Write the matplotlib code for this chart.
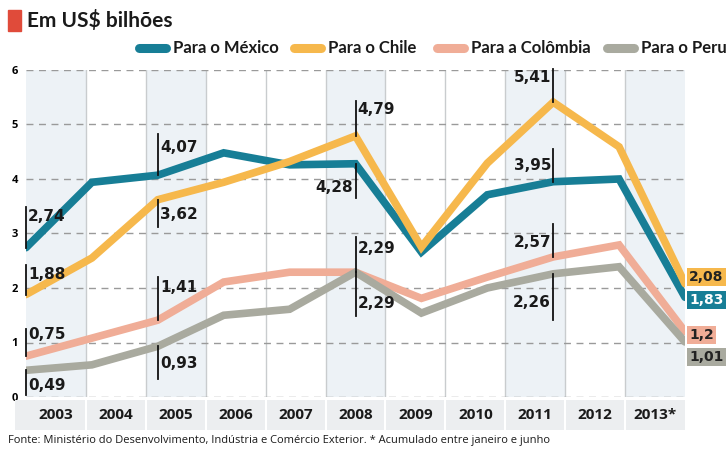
import matplotlib
matplotlib.use("Agg")
import matplotlib.pyplot as plt
from matplotlib.lines import Line2D
from matplotlib.patches import Rectangle

# data (US$ bilhões)
years = ["2003", "2004", "2005", "2006", "2007", "2008", "2009", "2010", "2011", "2012", "2013*"]
mexico = [2.74, 3.94, 4.07, 4.48, 4.26, 4.28, 2.66, 3.71, 3.95, 4.00, 1.83]
chile = [1.88, 2.55, 3.62, 3.94, 4.32, 4.79, 2.75, 4.29, 5.41, 4.59, 2.08]
colombia = [0.75, 1.08, 1.41, 2.11, 2.29, 2.29, 1.81, 2.20, 2.57, 2.79, 1.20]
peru = [0.49, 0.59, 0.93, 1.50, 1.61, 2.29, 1.54, 2.00, 2.26, 2.39, 1.01]
names = ["Para o México", "Para o Chile", "Para a Colômbia", "Para o Peru"]
shaded = [0, 2, 5, 8, 10]

colors = ["#177e96", "#f6b84c", "#f0ad97", "#a9aa9f"]
series = [mexico, chile, colombia, peru]

NUM = ["Open Sans", "DejaVu Sans"]
LAB = ["DejaVu Sans"]
NARROW = ["Liberation Sans Narrow", "Lato", "DejaVu Sans"]

# (series, year index, up/down, text side, text offset, line length)
notes = [
    (0, 0, 1, "r", 0.57, 0.75), (1, 0, 1, "r", 0.37, 0.55), (2, 0, 1, "r", 0.39, 0.5), (3, 0, -1, "r", 0.28, 0.45),
    (0, 2, 1, "r", 0.5, 0.75), (1, 2, -1, "r", 0.28, 0.5), (2, 2, 1, "r", 0.6, 0.8), (3, 2, -1, "r", 0.31, 0.6),
    (1, 5, 1, "r", 0.48, 0.65), (0, 5, -1, "l", 0.44, 0.62), (2, 5, 1, "r", 0.44, 0.65), (3, 5, -1, "r", 0.57, 0.8),
    (1, 8, 1, "l", 0.46, 0.6), (0, 8, 1, "l", 0.3, 0.6), (2, 8, 1, "l", 0.26, 0.6), (3, 8, -1, "l", 0.53, 0.85),
]
end_text_y = [1.78, 2.2, 1.14, 0.73]
end_text_color = ["white", "#222222", "#222222", "#222222"]

fig = plt.figure(figsize=(7.26, 4.49), dpi=100)
W, H = 726, 449

def fx(px):
    return px / W

def fy(py):
    return 1 - py / H

ax = fig.add_axes([fx(26), fy(397), fx(659), (397 - 70) / H])
ax.set_xlim(0, len(years))
ax.set_ylim(0, 6)
for i in shaded:
    ax.axvspan(i, i + 1, color="#edf2f6", zorder=0, lw=0)
for i in range(1, len(years)):
    ax.axvline(i, color="#c9ccce", lw=1, zorder=1)
for v in range(0, 7):
    ax.axhline(v, color="#9a9a9a", lw=1, ls=(0, (5, 4)), zorder=1)
for s in ax.spines.values():
    s.set_visible(False)
ax.set_xticks([])
ax.set_yticks(range(0, 7))
ax.set_yticklabels([str(v) for v in range(0, 7)], fontfamily=NUM, fontweight="bold", fontsize=8)
ax.tick_params(axis="y", length=0, pad=6)

ax2 = ax.twiny()
ax2.set_xlim(0, len(years) - 1)
ax2.set_ylim(0, 6)
ax2.axis("off")
xs = list(range(len(years)))
for vals, c in zip(series, colors):
    ax2.plot(xs, vals, color=c, lw=5.5, solid_capstyle="round", solid_joinstyle="miter", zorder=3)

for si, yi, d, side, toff, llen in notes:
    v = series[si][yi]
    ax2.plot([yi, yi], [v, v + d * llen], color="#111111", lw=1.3, zorder=5, clip_on=False)
    lab = ("%g" % v).replace(".", ",")
    if side == "r":
        ax2.annotate(lab, (yi, v + d * toff), xytext=(1.5, 0), textcoords="offset points",
                     ha="left", va="center", fontsize=11, fontweight="bold", fontfamily=LAB,
                     color="#1a1a1a", zorder=6)
    else:
        ax2.annotate(lab, (yi, v + d * toff), xytext=(-1.5, 0), textcoords="offset points",
                     ha="right", va="center", fontsize=11, fontweight="bold", fontfamily=LAB,
                     color="#1a1a1a", zorder=6)

last = len(years) - 1
for vals, c, ty, tc in zip(series, colors, end_text_y, end_text_color):
    lab = ("%g" % vals[last]).replace(".", ",")
    ax2.annotate(lab, (last, ty), xytext=(3, 0), textcoords="offset points",
                 ha="left", va="center", fontsize=10, fontweight="bold", fontfamily=LAB,
                 color=tc, annotation_clip=False, zorder=6,
                 bbox=dict(boxstyle="square,pad=0.15", fc=c, ec="none"))

# year band
axb = fig.add_axes([fx(15), fy(430), fx(670), 30 / H])
axb.set_xlim(-11 / 60, len(years))
axb.set_ylim(0, 1)
axb.axis("off")
axb.add_patch(Rectangle((-11 / 60, 0), len(years) + 11 / 60, 1, color="#eceef0", lw=0))
for i in range(1, len(years)):
    axb.axvline(i, color="white", lw=1.5)
for i, yr in enumerate(years):
    axb.text(i + 0.5, 0.5, yr, ha="center", va="center", fontsize=11, fontweight="bold",
             fontfamily=NUM, color="#1a1a1a")

# title
fig.patches.append(Rectangle((fx(8), fy(31)), fx(13), 21 / H, color="#e04b3a", transform=fig.transFigure))
fig.text(fx(27), fy(20), "Em US$ bilhões", fontsize=15, fontweight="bold", fontfamily=NARROW,
         va="center", ha="left", color="#1a1a1a")

# legend
leg_x = [135, 290, 433, 603]
for x0, c, n in zip(leg_x, colors, names):
    fig.add_artist(Line2D([fx(x0 + 4), fx(x0 + 31)], [fy(48), fy(48)], color=c, lw=6.5,
                          solid_capstyle="round", transform=fig.transFigure))
    fig.text(fx(x0 + 38), fy(48), n, fontsize=12, fontweight="bold", fontfamily=NARROW,
             va="center", ha="left", color="#1a1a1a")

fig.text(fx(8), fy(440), "Fonte: Ministério do Desenvolvimento, Indústria e Comércio Exterior. * Acumulado entre janeiro e junho",
         fontsize=8, fontfamily=NUM, va="center", ha="left", color="#1a1a1a")

fig.savefig("out.png", dpi=100, facecolor="white")
